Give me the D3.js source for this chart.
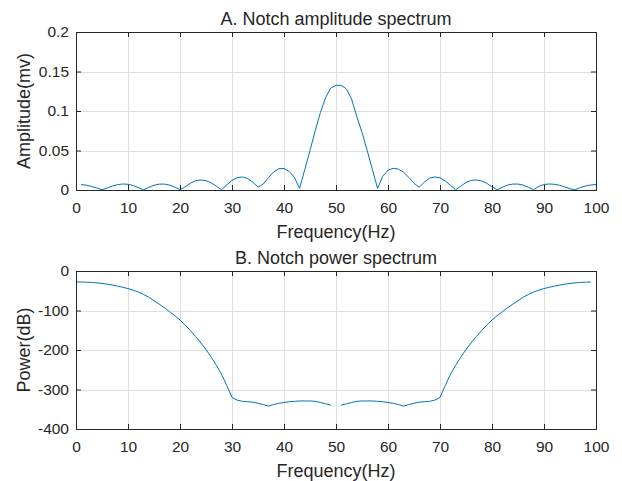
<!DOCTYPE html>
<html><head><meta charset="utf-8">
<script src="https://cdn.jsdelivr.net/npm/d3@7"></script>
<style>body{margin:0;background:#fff}svg{display:block}text{font-family:"Liberation Sans",Arial,sans-serif;fill:#262626}</style>
</head><body><svg id="c" width="622" height="481"></svg>
<script>
// ---- data ----
const ampFreq = d3.range(1, 101);
const ampValues = [
 0.0068,0.0062,0.0045,0.0025,0.0003,0.0025,0.0050,0.0068,0.0076,0.0072,
 0.0056,0.0030,0.0002,0.0032,0.0060,0.0074,0.0075,0.0062,0.0036,0.0005,
 0.0040,0.0085,0.0118,0.0127,0.0118,0.0090,0.0048,0.0003,0.0065,0.0120,
 0.0156,0.0165,0.0145,0.0100,0.0035,0.0075,0.0155,0.0228,0.0270,0.0272,
 0.0235,0.0160,0.0020,0.0260,0.0500,0.0750,0.0980,0.1170,0.1290,0.1325,
 0.1325,0.1280,0.1150,0.0930,0.0730,0.0500,0.0260,0.0020,0.0175,0.0250,
 0.0275,0.0265,0.0225,0.0160,0.0085,0.0035,0.0100,0.0150,0.0165,0.0155,
 0.0115,0.0060,0.0003,0.0050,0.0095,0.0122,0.0127,0.0115,0.0085,0.0040,
 0.0003,0.0035,0.0063,0.0075,0.0075,0.0062,0.0035,0.0003,0.0045,0.0070,
 0.0076,0.0072,0.0060,0.0040,0.0015,0.0003,0.0030,0.0052,0.0064,0.0068];
const powFreq = d3.range(0, 100);
const powValues = [
 -27.7,-27.9,-28.3,-29.0,-30.0,-31.5,-33.3,-35.5,-38.2,-41.2,
 -44.5,-48.5,-53.5,-59.5,-66.5,-75,-84,-93,-103,-113,
 -124,-137,-151,-166,-182,-199,-218,-239,-262,-290,
 -320,-327,-330,-331,-332,-335,-338,-342,-338,-335,
 -333,-331,-330,-329,-329,-329,-330,-333,-336,-340,
 null,-340,-336,-333,-330,-329,-329,-329,-330,-331,
 -333,-335,-338,-342,-338,-335,-332,-331,-330,-327,
 -320,-290,-262,-239,-218,-199,-182,-166,-151,-137,
 -124,-113,-103,-93,-84,-75,-66.5,-59.5,-53.5,-48.5,
 -44.5,-41.2,-38.2,-35.5,-33.3,-31.5,-30.0,-29.0,-28.3,-27.9];
const xTicks = [0,10,20,30,40,50,60,70,80,90,100];
const ampTicks = [0,0.05,0.1,0.15,0.2];
const ampTickLabels = ["0","0.05","0.1","0.15","0.2"];
const powTicks = [-400,-300,-200,-100,0];
const powTickLabels = ["-400","-300","-200","-100","0"];

const svg = d3.select("#c");
const L = 76, R = 596;
const fs = 15.5, fl = 18;

function panel(top, bottom, yDomain, yTicks, yLabels, xs, ys, title, ylabel) {
  const x = d3.scaleLinear().domain([0,100]).range([L,R]);
  const y = d3.scaleLinear().domain(yDomain).range([bottom, top]);
  const g = svg.append("g");
  g.append("rect").attr("x",L).attr("y",top).attr("width",R-L).attr("height",bottom-top).attr("fill","#fff");
  // grid
  g.selectAll(".gx").data(xTicks.slice(1,-1)).enter().append("line")
    .attr("x1",d=>Math.round(x(d))+0.5).attr("x2",d=>Math.round(x(d))+0.5).attr("y1",top).attr("y2",bottom)
    .attr("stroke","#dfdfdf").attr("stroke-width",1);
  g.selectAll(".gy").data(yTicks.slice(1,-1)).enter().append("line")
    .attr("y1",d=>Math.round(y(d))+0.5).attr("y2",d=>Math.round(y(d))+0.5).attr("x1",L).attr("x2",R)
    .attr("stroke","#dfdfdf").attr("stroke-width",1);
  // line
  const line = d3.line().defined(d=>d[1]!==null).x(d=>x(d[0])).y(d=>y(d[1]));
  g.append("path").datum(xs.map((f,i)=>[f,ys[i]])).attr("d",line)
    .attr("fill","none").attr("stroke","#0072BD").attr("stroke-width",1);
  // axes
  const tl = 5;
  const ax = g.append("g").attr("transform",`translate(0,${bottom})`)
    .call(d3.axisBottom(x).tickValues(xTicks).tickSizeInner(-tl).tickSizeOuter(0).tickPadding(12));
  const axT = g.append("g").attr("transform",`translate(0,${top})`)
    .call(d3.axisTop(x).tickValues(xTicks).tickSizeInner(-tl).tickSizeOuter(0).tickFormat(""));
  const ay = g.append("g").attr("transform",`translate(${L},0)`)
    .call(d3.axisLeft(y).tickValues(yTicks).tickSizeInner(-tl).tickSizeOuter(0).tickPadding(7).tickFormat((d,i)=>yLabels[i]));
  const ayR = g.append("g").attr("transform",`translate(${R},0)`)
    .call(d3.axisRight(y).tickValues(yTicks).tickSizeInner(-tl).tickSizeOuter(0).tickFormat(""));
  [ax,axT,ay,ayR].forEach(a=>{
    a.select(".domain").remove();
    a.selectAll("line").attr("stroke","#262626");
    a.selectAll("text").attr("font-size",fs).attr("fill","#262626").style("font-family","'Liberation Sans',Arial,sans-serif");
  });
  g.append("rect").attr("x",L+0.5).attr("y",top+0.5).attr("width",R-L).attr("height",bottom-top)
    .attr("fill","none").attr("stroke","#262626").attr("stroke-width",1);
  g.append("text").attr("x",(L+R)/2).attr("y",top-7).attr("text-anchor","middle").attr("font-size",fl).text(title);
  g.append("text").attr("x",(L+R)/2).attr("y",bottom+48).attr("text-anchor","middle").attr("font-size",fl).text("Frequency(Hz)");
  g.append("text").attr("transform",`translate(30,${(top+bottom)/2}) rotate(-90)`).attr("text-anchor","middle").attr("font-size",fl).text(ylabel);
}

panel(32, 190, [0,0.2], ampTicks, ampTickLabels, ampFreq, ampValues, "A. Notch amplitude spectrum", "Amplitude(mv)");
panel(271, 429, [-400,0], powTicks, powTickLabels, powFreq, powValues, "B. Notch power spectrum", "Power(dB)");
</script></body></html>
